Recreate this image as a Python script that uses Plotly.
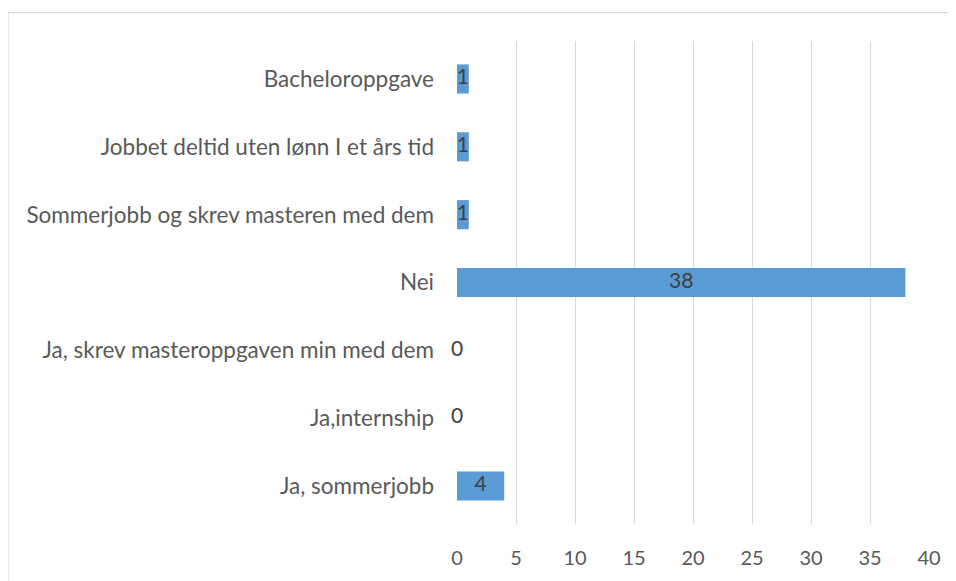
import plotly.graph_objects as go

categories = [
    "Ja, sommerjobb",
    "Ja,internship",
    "Ja, skrev masteroppgaven min med dem",
    "Nei",
    "Sommerjobb og skrev masteren med dem",
    "Jobbet deltid uten lønn I et års tid",
    "Bacheloroppgave",
]
values = [4, 0, 0, 38, 1, 1, 1]
x_ticks = [0, 5, 10, 15, 20, 25, 30, 35, 40]

FONT = "Lato"
# page body has an 8px margin; figure coordinates are page - 8
W, H = 948, 573
L, R, T, B = 449, 27, 33, 46
pw = W - L - R
ph = H - T - B

fig = go.Figure()
fig.add_trace(go.Bar(
    x=values, y=categories, orientation="h",
    marker=dict(color="#5b9bd5", line=dict(width=0)),
    hoverinfo="x+y",
))
fig.add_trace(go.Scatter(
    x=[v / 2 for v in values], y=categories, mode="text",
    text=[str(v) for v in values],
    textfont=dict(family=FONT, size=21, color="#404040"),
    cliponaxis=False, hoverinfo="skip",
))

fig.update_layout(
    width=W, height=H,
    margin=dict(l=L, r=R, t=T, b=B),
    paper_bgcolor="white", plot_bgcolor="white",
    showlegend=False,
    bargap=0.57,
    font=dict(family=FONT, color="#595959"),
    xaxis=dict(
        range=[0, 40], tickvals=x_ticks, showgrid=True,
        gridcolor="#d9d9d9", gridwidth=1.3, zeroline=False,
        showline=False, ticks="", tickfont=dict(size=20, color="#595959"),
        ticklabelstandoff=20, fixedrange=True,
    ),
    yaxis=dict(
        categoryorder="array", categoryarray=categories,
        range=[-0.56, 6.56],
        showgrid=False, zeroline=False, showline=False, ticks="",
        tickfont=dict(size=22.5, color="#595959"),
        ticklabelstandoff=22, fixedrange=True,
    ),
    shapes=[dict(
        type="rect", xref="paper", yref="paper",
        x0=(0 - L) / pw, x1=(W + 20 - L) / pw,
        y0=-(H + 20 - (H - B)) / ph, y1=(H - B - 4) / ph,
        line=dict(color="#d9d9d9", width=1.3), fillcolor="rgba(0,0,0,0)",
        layer="below",
    )],
)

fig.write_html("out.html")
